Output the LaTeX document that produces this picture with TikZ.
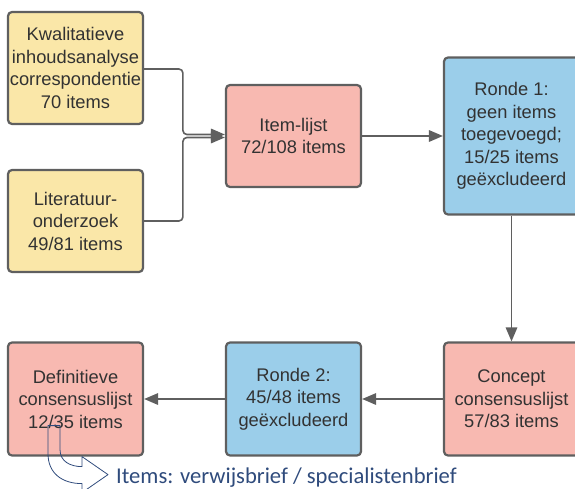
\documentclass[tikz,border=0pt]{standalone}
\usepackage{fontspec}
\setmainfont{Liberation Sans}
\newfontfamily\calibrifont{Carlito}
\usepackage{tikz}
\usepackage{xcolor}
\usetikzlibrary{positioning}
\usetikzlibrary{arrows.meta}
\definecolor{geel}{RGB}{250,231,168}
\definecolor{roze}{RGB}{248,185,177}
\definecolor{blauw}{RGB}{155,206,234}
\definecolor{rand}{RGB}{95,95,95}
\definecolor{tekst}{RGB}{50,50,50}
\definecolor{donkerblauw}{RGB}{47,75,124}
\tikzstyle{box} = [rectangle, rounded corners=4pt, minimum width=135pt, minimum height=102pt, inner sep=0pt, text centered, align=center, draw=rand, line width=2.2pt, text=tekst, font=\fontsize{18.3}{22.5}\selectfont]
\tikzstyle{bron} = [box, fill=geel]
\tikzstyle{lijst} = [box, fill=roze]
\tikzstyle{ronde} = [box, fill=blauw]
\tikzstyle{arrow} = [line width=1.6pt, draw=rand, -{Triangle[length=14pt,width=11.5pt]}]

\begin{document}
\begin{tikzpicture}[node distance=218pt]
        \path[use as bounding box, clip] (0pt,0pt) rectangle (575pt,-489pt);

        \node (kwal) [bron, minimum height=112pt] at (75.5pt,-68pt) {Kwalitatieve\\inhoudsanalyse\\correspondentie\\70 items};
        \node (lit) [bron, below of=kwal, yshift=65pt] {Literatuur-\\onderzoek\\49/81 items};
        \node (itemlijst) [lijst, right of=kwal, yshift=-68pt] {Item-lijst\\72/108 items};
        \node (ronde1) [ronde, right of=itemlijst, minimum height=157pt] {Ronde 1:\\geen items\\toegevoegd;\\15/25 items\\geëxcludeerd};
        \node (concept) [lijst, below of=ronde1, yshift=-45pt, minimum height=113pt] {Concept\\consensuslijst\\57/83 items};
        \node (ronde2) [ronde, left of=concept, minimum height=113pt] {Ronde 2:\\45/48 items\\geëxcludeerd};
        \node (defin) [lijst, left of=ronde2, minimum height=113pt] {Definitieve\\consensuslijst\\12/35 items};

        \draw [arrow, rounded corners=4pt] ([yshift=-1pt]kwal.east) -| ([xshift=-42pt,yshift=1.5pt]itemlijst.west) -- ([yshift=1.5pt]itemlijst.west);
        \draw [arrow, rounded corners=4pt] ([yshift=-0pt]lit.east) -| ([xshift=-42pt,yshift=-1.5pt]itemlijst.west) -- ([yshift=-1.5pt]itemlijst.west);
        \draw [arrow] (itemlijst) -- (ronde1);
        \draw [arrow] (ronde1) -- (concept);
        \draw [arrow] (concept) -- (ronde2);
        \draw [arrow] (ronde2) -- (defin);

        % holle pijl naar de items
        \begin{scope}[shift={(defin.south)}]
            \coordinate (pijlpunt) at (32.5pt,-18pt);
            \draw [donkerblauw, line width=0.8pt, line join=round] (-27.5pt,31pt) -- (-27.5pt,3pt) .. controls (-27.5pt,-17pt) and (-13pt,-27pt) .. (6.5pt,-27pt) -- (6.5pt,-36pt) -- (pijlpunt) -- (6.5pt,0pt) -- (6.5pt,-10pt) .. controls (-5pt,-10pt) and (-15.5pt,-5pt) .. (-15.5pt,7pt) -- (-15.5pt,31pt) -- cycle;
        \end{scope}
        \node (verwijs) [right=8pt of pijlpunt, inner sep=0pt, yshift=-3pt, text=donkerblauw, font=\calibrifont\fontsize{22.6}{26}\selectfont] {Items: verwijsbrief / specialistenbrief};

    \end{tikzpicture}
\end{document}
